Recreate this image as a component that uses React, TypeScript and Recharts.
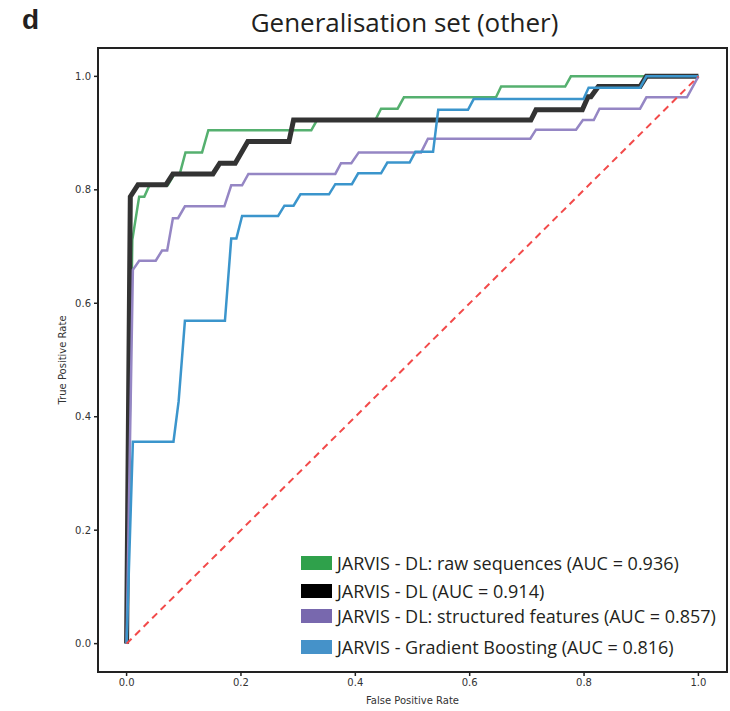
import React from "react";
import { LineChart, Line, XAxis, YAxis, ReferenceArea } from "recharts";

const rawSeqFpr = [0, 0.01, 0.022, 0.031, 0.04, 0.072, 0.084, 0.093, 0.103, 0.132, 0.143, 0.323, 0.333, 0.435, 0.445, 0.474, 0.485, 0.646, 0.655, 0.767, 0.777, 1.0];
const rawSeqTpr = [0, 0.712, 0.788, 0.788, 0.808, 0.808, 0.828, 0.828, 0.866, 0.866, 0.905, 0.905, 0.923, 0.923, 0.943, 0.943, 0.963, 0.963, 0.982, 0.982, 1.0, 1.0];

const dlFpr = [0, 0.0065, 0.02, 0.069, 0.081, 0.151, 0.163, 0.19, 0.212, 0.284, 0.292, 0.707, 0.716, 0.797, 0.807, 0.812, 0.825, 0.898, 0.909, 1.0];
const dlTpr = [0, 0.788, 0.809, 0.809, 0.828, 0.828, 0.847, 0.847, 0.885, 0.885, 0.923, 0.923, 0.941, 0.941, 0.964, 0.964, 0.982, 0.982, 1.0, 1.0];

const structFpr = [0, 0.011, 0.022, 0.051, 0.062, 0.071, 0.081, 0.09, 0.102, 0.171, 0.183, 0.202, 0.213, 0.365, 0.375, 0.393, 0.406, 0.515, 0.527, 0.706, 0.716, 0.786, 0.798, 0.817, 0.827, 0.898, 0.909, 0.98, 1.0];
const structTpr = [0, 0.659, 0.675, 0.675, 0.693, 0.693, 0.75, 0.75, 0.771, 0.771, 0.808, 0.808, 0.828, 0.828, 0.847, 0.847, 0.866, 0.866, 0.89, 0.89, 0.906, 0.906, 0.923, 0.923, 0.943, 0.943, 0.963, 0.963, 1.0];

const gbFpr = [0, 0.011, 0.082, 0.091, 0.102, 0.172, 0.183, 0.192, 0.202, 0.265, 0.276, 0.292, 0.304, 0.354, 0.365, 0.394, 0.405, 0.445, 0.456, 0.495, 0.505, 0.536, 0.545, 0.597, 0.607, 0.799, 0.808, 0.898, 0.909, 1.0];
const gbTpr = [0, 0.356, 0.356, 0.427, 0.569, 0.569, 0.714, 0.714, 0.754, 0.754, 0.772, 0.772, 0.792, 0.792, 0.81, 0.81, 0.829, 0.829, 0.848, 0.848, 0.867, 0.867, 0.941, 0.941, 0.96, 0.96, 0.98, 0.98, 1.0, 1.0];

const chanceFpr = [0, 1];
const chanceTpr = [0, 1];

const tickValues = [0, 0.2, 0.4, 0.6, 0.8, 1.0];
const tickLabels = ["0.0", "0.2", "0.4", "0.6", "0.8", "1.0"];

const legendLabels = [
  "JARVIS - DL: raw sequences (AUC = 0.936)",
  "JARVIS - DL (AUC = 0.914)",
  "JARVIS - DL: structured features (AUC = 0.857)",
  "JARVIS - Gradient Boosting (AUC = 0.816)",
];
const legendColors = ["#2fa14b", "#000000", "#7868ae", "#4592c9"];
const legendTops = [563, 591, 616, 647];

const zip = (xs: number[], ys: number[]) => xs.map((x, i) => ({ x, y: ys[i] }));

const fmt = (v: number) => {
  const i = tickValues.indexOf(v);
  return i >= 0 ? tickLabels[i] : String(v);
};

export default function App() {
  const tickStyle = { fontSize: 10, fill: "#333", fontFamily: "DejaVu Sans" };
  return (
    <div style={{ position: "absolute", left: 0, top: 0, width: 730, height: 711, background: "#fff" }}>
      <LineChart width={730} height={711} margin={{ top: 48, right: 3, bottom: 0, left: 58 }}>
        <XAxis
          type="number"
          dataKey="x"
          domain={[-0.05, 1.05]}
          ticks={tickValues}
          tickFormatter={fmt}
          allowDataOverflow
          height={39}
          tickSize={4}
          tickLine={{ stroke: "#222", strokeWidth: 1.5 }}
          axisLine={false}
          tick={tickStyle}
          tickMargin={3}
        />
        <YAxis
          type="number"
          dataKey="y"
          domain={[-0.05, 1.05]}
          ticks={tickValues}
          tickFormatter={fmt}
          allowDataOverflow
          width={40}
          tickSize={4}
          tickLine={{ stroke: "#222", strokeWidth: 1.5 }}
          axisLine={false}
          tick={tickStyle}
          tickMargin={3}
        />
        <Line data={zip(rawSeqFpr, rawSeqTpr)} dataKey="y" stroke="#55b06f" strokeWidth={2.5} dot={false} isAnimationActive={false} type="linear" />
        <Line data={zip(dlFpr, dlTpr)} dataKey="y" stroke="#333333" strokeWidth={5} dot={false} isAnimationActive={false} type="linear" />
        <Line data={zip(structFpr, structTpr)} dataKey="y" stroke="#9586c4" strokeWidth={2.5} dot={false} isAnimationActive={false} type="linear" />
        <Line data={zip(gbFpr, gbTpr)} dataKey="y" stroke="#3b95cc" strokeWidth={2.5} dot={false} isAnimationActive={false} type="linear" />
        <Line data={zip(chanceFpr, chanceTpr)} dataKey="y" stroke="#f24a4a" strokeWidth={2} strokeDasharray="7 5" dot={false} isAnimationActive={false} type="linear" />
        <ReferenceArea x1={-0.05} x2={1.05} y1={-0.05} y2={1.05} fill="none" stroke="#222" strokeWidth={2} ifOverflow="visible" />
      </LineChart>
      <div style={{ position: "absolute", left: 22, top: 4, fontFamily: "Liberation Sans", fontWeight: "bold", fontSize: 28, color: "#231f20" }}>d</div>
      <div style={{ position: "absolute", left: 90, width: 629, top: 7, height: 30, lineHeight: "30px", textAlign: "center", fontFamily: "Open Sans", fontSize: 26, color: "#231f20", whiteSpace: "nowrap" }}>
        Generalisation set (other)
      </div>
      <div style={{ position: "absolute", left: 98, width: 629, top: 695, textAlign: "center", fontFamily: "DejaVu Sans", fontSize: 10, color: "#333" }}>
        False Positive Rate
      </div>
      <div style={{ position: "absolute", left: 62, top: 360, width: 0, height: 0 }}>
        <div style={{ position: "absolute", transform: "translate(-50%, -50%) rotate(-90deg)", whiteSpace: "nowrap", fontFamily: "DejaVu Sans", fontSize: 10, color: "#333" }}>
          True Positive Rate
        </div>
      </div>
      {legendLabels.map((label, i) => (
        <div key={label} style={{ position: "absolute", left: 301, top: legendTops[i] - 13, height: 26, display: "flex", alignItems: "center", whiteSpace: "nowrap" }}>
          <div style={{ width: 31, height: 14, background: legendColors[i], marginRight: 5 }} />
          <span style={{ fontFamily: "Open Sans", fontSize: 18, color: "#231f20" }}>{label}</span>
        </div>
      ))}
    </div>
  );
}
